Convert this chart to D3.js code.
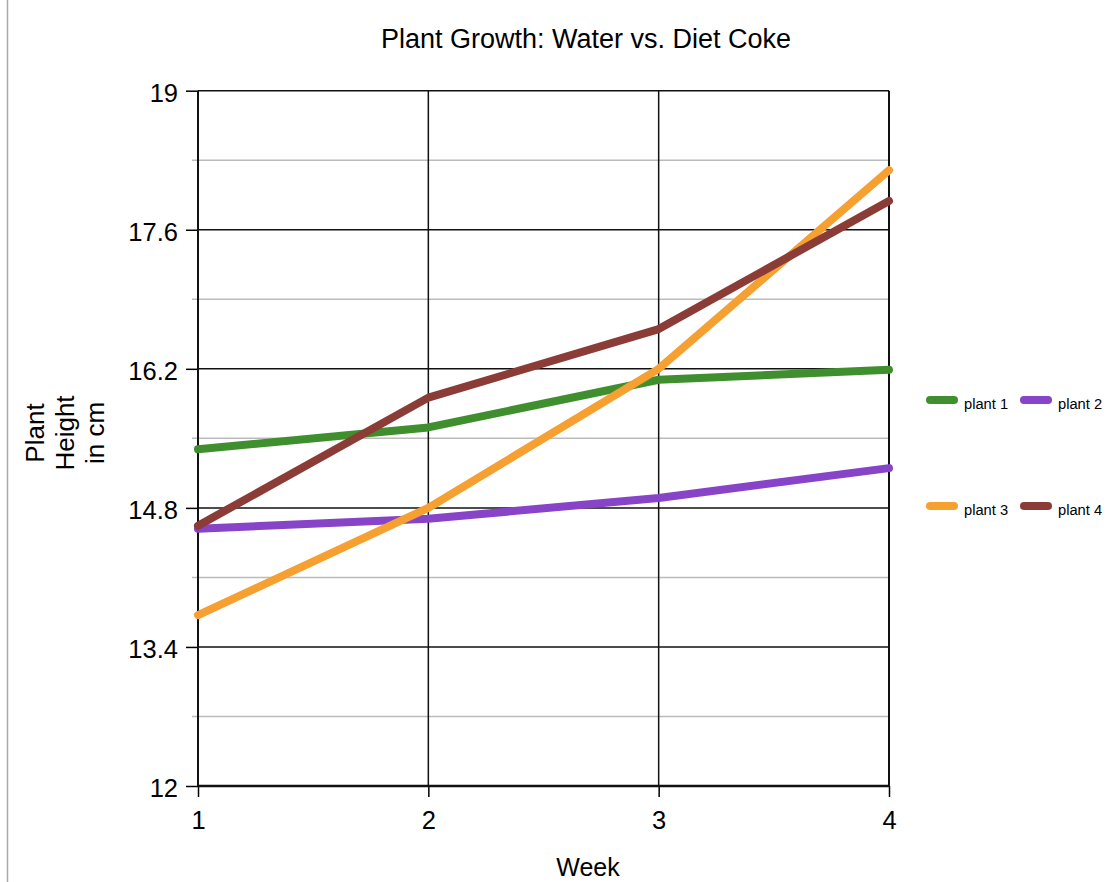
<!DOCTYPE html>
<html><head><meta charset="utf-8">
<script src="https://cdn.jsdelivr.net/npm/d3@7/dist/d3.min.js"></script>
<style>body{margin:0;background:#fff}svg{display:block;font-family:"Liberation Sans",Arial,sans-serif}</style>
</head><body><svg id="c" width="1108" height="882"></svg>
<script>
const weeks = [1, 2, 3, 4];
const seriesNames = ["plant 1", "plant 2", "plant 3", "plant 4"];
const plant1 = [15.39, 15.61, 16.09, 16.19];
const plant2 = [14.59, 14.69, 14.9, 15.2];
const plant3 = [13.72, 14.8, 16.2, 18.2];
const plant4 = [14.62, 15.91, 16.6, 17.89];
const colors = ["#3f8f2f", "#8844c8", "#f5a031", "#8b3c36"];
const yTicks = [12, 13.4, 14.8, 16.2, 17.6, 19];
const yMinor = [12.7, 14.1, 15.5, 16.9, 18.3];
const yLabelLines = ["Plant", "Height", "in cm"];

const FONT = "Liberation Sans, Arial, sans-serif";
const svg = d3.select("#c");
const x = d3.scaleLinear().domain([1, 4]).range([198, 889]);
const y = d3.scaleLinear().domain([12, 19]).range([786, 90.7]);

svg.append("line").attr("x1",7.5).attr("x2",7.5).attr("y1",0).attr("y2",882).attr("stroke","#aaa").attr("stroke-width",1.5);

// minor grid
svg.append("g").selectAll("line").data(yMinor).join("line")
  .attr("x1", 192).attr("x2", x(4)).attr("y1", d=>y(d)).attr("y2", d=>y(d))
  .attr("stroke", "#bbb").attr("stroke-width", 1.5);

// y axis ticks + labels
const gy = svg.append("g").attr("transform", `translate(${x(1)},0)`)
  .call(d3.axisLeft(y).tickValues(yTicks).tickSize(12).tickSizeOuter(0).tickFormat(d3.format("")).tickPadding(8));
gy.select(".domain").remove();
gy.selectAll(".tick line").attr("stroke","#000").attr("stroke-width",1.5);
gy.selectAll(".tick text").attr("font-size",25.5).attr("fill","#000").attr("font-family",FONT).attr("dy","0.42em");
svg.append("g").selectAll("line").data(yTicks).join("line")
  .attr("x1", x(1)).attr("x2", x(4)).attr("y1", d=>y(d)).attr("y2", d=>y(d))
  .attr("stroke", "#111").attr("stroke-width", 1.5);

// x axis ticks + labels, vertical grid
const gx = svg.append("g").attr("transform", `translate(0,${y(12)})`)
  .call(d3.axisBottom(x).tickValues(weeks).tickSize(11).tickSizeOuter(0).tickFormat(d3.format("d")).tickPadding(10));
gx.select(".domain").remove();
gx.selectAll(".tick line").attr("stroke","#000").attr("stroke-width",1.5);
gx.selectAll(".tick text").attr("font-size",25.5).attr("fill","#000").attr("font-family",FONT).attr("dy","0.88em");
svg.append("g").selectAll("line").data(weeks).join("line")
  .attr("x1", d=>x(d)).attr("x2", d=>x(d)).attr("y1", y(19)).attr("y2", y(12))
  .attr("stroke", "#111").attr("stroke-width", d => (d===1||d===4) ? 2 : 1.5);
svg.append("line").attr("x1",x(1)).attr("x2",x(4)).attr("y1",y(12)).attr("y2",y(12)).attr("stroke","#111").attr("stroke-width",2.5);

// lines
const data = [plant1, plant2, plant3, plant4];
const line = d3.line().x((d,i)=>x(weeks[i])).y(d=>y(d));
svg.append("g").selectAll("path").data(data).join("path")
  .attr("d", line).attr("fill","none").attr("stroke",(d,i)=>colors[i])
  .attr("stroke-width",8).attr("stroke-linecap","round").attr("stroke-linejoin","round");

// titles
svg.append("text").attr("x",586).attr("y",48).attr("text-anchor","middle").attr("font-size",27).text("Plant Growth: Water vs. Diet Coke");
svg.append("text").attr("x",588).attr("y",876).attr("text-anchor","middle").attr("font-size",25).text("Week");
svg.append("g").selectAll("text").data(yLabelLines).join("text")
  .attr("transform",(d,i)=>`translate(${44 + i*30},433) rotate(-90)`)
  .attr("text-anchor","middle").attr("font-size",26).text(d=>d);

// legend
const legPos = [[926,400],[1020,400],[926,506],[1020,506]];
const lg = svg.append("g").selectAll("g").data(seriesNames).join("g")
  .attr("transform",(d,i)=>`translate(${legPos[i][0]},${legPos[i][1]})`);
lg.append("line").attr("x1",4).attr("x2",28).attr("y1",0).attr("y2",0)
  .attr("stroke",(d,i)=>colors[i]).attr("stroke-width",8).attr("stroke-linecap","round");
lg.append("text").attr("x",38).attr("y",9).attr("font-size",14.7).text(d=>d);
</script></body></html>
